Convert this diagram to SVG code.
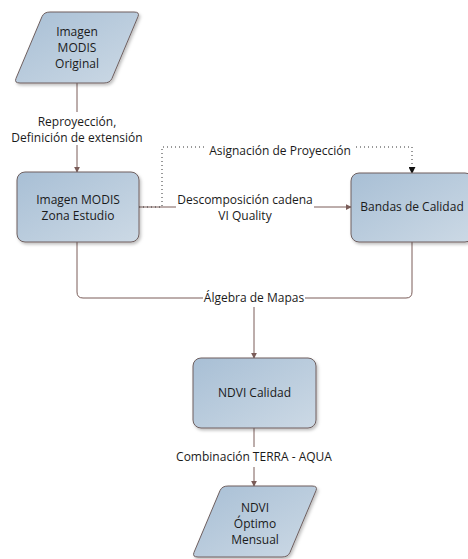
<svg xmlns="http://www.w3.org/2000/svg" width="468" height="559" viewBox="0 0 468 559">
<defs>
<linearGradient id="g" x1="0" y1="0" x2="1" y2="1">
<stop offset="0" stop-color="#a8bfd5"/>
<stop offset="1" stop-color="#ccd9e5"/>
</linearGradient>
<filter id="sh" x="-10%" y="-10%" width="130%" height="130%">
<feDropShadow dx="1.5" dy="2" stdDeviation="1.5" flood-color="#000" flood-opacity="0.25"/>
</filter>
<marker id="a" viewBox="0 0 8 8" refX="7" refY="4" markerWidth="6" markerHeight="6" orient="auto" markerUnits="userSpaceOnUse">
<path d="M0,0 L8,4 L0,8 Z" fill="#7a5c58"/>
</marker>
<marker id="ad" viewBox="0 0 8 8" refX="7" refY="4" markerWidth="7" markerHeight="7" orient="auto" markerUnits="userSpaceOnUse">
<path d="M0,0 L8,4 L0,8 Z" fill="#111"/>
</marker>
</defs>
<style>
.n{fill:url(#g);stroke:#6e5f5f;stroke-width:1;filter:url(#sh)}
.t{font-family:"Open Sans","Noto Sans",sans-serif;font-size:12px;fill:#1a1a1a;text-anchor:middle}
.c{fill:none;stroke:#7a5c58;stroke-width:1}
.d{fill:none;stroke:#333;stroke-width:1;stroke-dasharray:1 3}
</style>
<rect width="468" height="559" fill="#fff"/>
<g id="connectors">
<path class="c" d="M77,83 V112"/>
<path class="c" d="M77,145 V172" marker-end="url(#a)"/>
<path class="c" d="M139,207 H176"/>
<path class="c" d="M314,207 H351" marker-end="url(#a)"/>
<path class="d" d="M139,207 H162 V147 H205"/>
<path class="d" d="M356,147 H412 V173" marker-end="url(#ad)"/>
<path class="c" d="M77,242 V292 Q77,298 83,298 H203"/>
<path class="c" d="M305,298 H406 Q412,298 412,292 V242"/>
<path class="c" d="M254,307 V358" marker-end="url(#a)"/>
<path class="c" d="M254,428 V447"/>
<path class="c" d="M254,467 V486" marker-end="url(#a)"/>
<text class="t" x="77" y="126">Reproyección,</text>
<text class="t" x="77" y="142">Definición de extensión</text>
<text class="t" x="245" y="204">Descomposición cadena</text>
<text class="t" x="245" y="220">VI Quality</text>
<text class="t" x="280" y="155">Asignación de Proyección</text>
<text class="t" x="254" y="302">Álgebra de Mapas</text>
<text class="t" x="254" y="461">Combinación TERRA - AQUA</text>
</g>
<g id="n1">
<path class="n" d="M50,12 L134,12 Q140,12 138,16.6 L112,78.4 Q110,83 104,83 L20,83 Q14,83 16,78.4 L42,16.6 Q44,12 50,12 Z"/>
<text class="t" x="77" y="36">Imagen</text>
<text class="t" x="77" y="52">MODIS</text>
<text class="t" x="77" y="68">Original</text>
</g>
<g id="n2">
<rect class="n" x="17" y="172" width="122" height="70" rx="8"/>
<text class="t" x="78" y="204">Imagen MODIS</text>
<text class="t" x="78" y="220">Zona Estudio</text>
</g>
<g id="n3">
<rect class="n" x="351" y="173" width="122" height="69" rx="8"/>
<text class="t" x="412" y="211">Bandas de Calidad</text>
</g>
<g id="n4">
<rect class="n" x="193" y="358" width="123" height="70" rx="8"/>
<text class="t" x="254.5" y="397">NDVI Calidad</text>
</g>
<g id="n5">
<path class="n" d="M228,486 L312,486 Q318,486 316,490.6 L290,552.4 Q288,557 282,557 L198,557 Q192,557 194,552.4 L220,490.6 Q222,486 228,486 Z"/>
<text class="t" x="255" y="512">NDVI</text>
<text class="t" x="255" y="528">Óptimo</text>
<text class="t" x="255" y="544">Mensual</text>
</g>
</svg>
